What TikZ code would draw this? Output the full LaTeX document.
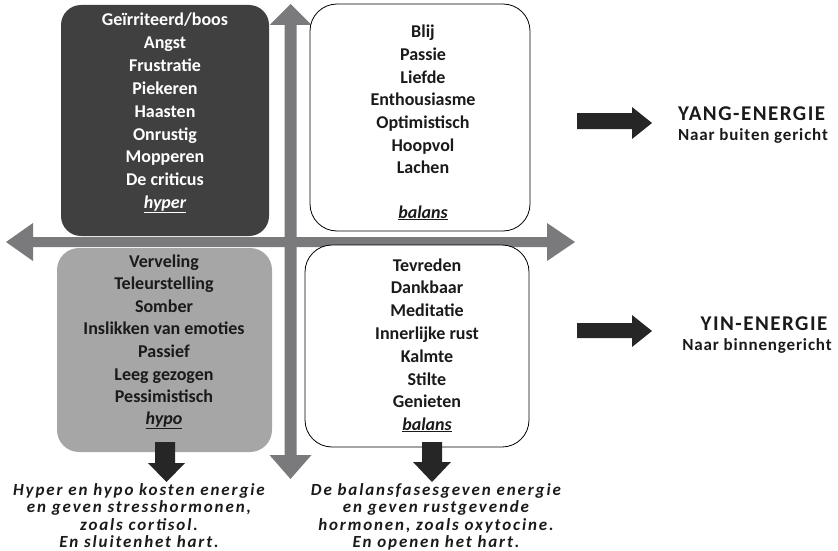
\documentclass[tikz,border=0pt]{standalone}
\usepackage{fontspec}
\setmainfont{Carlito}
\newfontfamily\capfont[LetterSpace=11]{Carlito}
\newfontfamily\yangfont[LetterSpace=7]{Carlito}
\newfontfamily\subfont[LetterSpace=5]{Carlito}
\definecolor{darkbox}{HTML}{404040}
\definecolor{graybox}{HTML}{A6A6A6}
\definecolor{axisgray}{HTML}{7A7A7C}
\definecolor{blackarrow}{HTML}{262626}
\definecolor{textdark}{HTML}{1A1A1A}
\begin{document}
\begin{tikzpicture}[x=1pt,y=-1pt,
  boxtext/.style={anchor=base,inner sep=0pt,font=\bfseries\fontsize{18}{22}\selectfont},
  captext/.style={anchor=base,inner sep=0pt,font=\capfont\bfseries\itshape\fontsize{17}{18}\selectfont,text=textdark},
  headtext/.style={inner sep=0pt,font=\yangfont\bfseries\fontsize{21}{24}\selectfont,text=textdark},
  subtext/.style={inner sep=0pt,font=\subfont\bfseries\fontsize{17}{18}\selectfont,text=textdark},
  axisshape/.style={fill=axisgray,draw=none},
  blockarrow/.style={fill=blackarrow,draw=none},
  quad/.style={rounded corners=#1,line width=0.8pt}
]
\useasboundingbox (0,0) rectangle (838,551);
% axes
\fill[axisshape] (6,242) -- (33,223) -- (33,237) -- (547,237) -- (547,223) -- (575,242)
  -- (547,261) -- (547,247) -- (33,247) -- (33,261) -- cycle;
\fill[axisshape] (290.5,4) -- (311.5,25) -- (296.5,25) -- (296.5,455) -- (311.5,455) -- (290.5,479)
  -- (269.5,455) -- (284.5,455) -- (284.5,25) -- (269.5,25) -- cycle;
% boxes
\node[quad=20pt,fill=darkbox,minimum width=208pt,minimum height=231pt,inner sep=0pt] (hyperbox) at (165,120.5) {};
\node[quad=27pt,fill=white,draw=black,minimum width=220pt,minimum height=227pt,inner sep=0pt] (balansup) at (420,117.5) {};
\node[quad=22pt,fill=graybox,minimum width=215pt,minimum height=204pt,inner sep=0pt] (hypobox) at (164.5,350) {};
\node[quad=27pt,fill=white,draw=black,minimum width=224pt,minimum height=202pt,inner sep=0pt] (balansdown) at (417,346) {};
% texts
\foreach \t [count=\i] in {Geïrriteerd/boos,Angst,Frustratie,Piekeren,Haasten,Onrustig,Mopperen,De criticus}
  \node[boxtext,text=white] (hy\i) at (165,{26+22.8*(\i-1)}) {\t};
\node[boxtext,text=white] (hylab) at (165,208) {\itshape\underline{hyper}};
\foreach \t [count=\i] in {Blij,Passie,Liefde,Enthousiasme,Optimistisch,Hoopvol,Lachen}
  \node[boxtext,text=textdark] (bu\i) at (423,{38+22.6*(\i-1)}) {\t};
\node[boxtext,text=textdark] (bulab) at (423,218) {\itshape\underline{balans}};
\foreach \t [count=\i] in {Verveling,Teleurstelling,Somber,Inslikken van emoties,Passief,Leeg gezogen,Pessimistisch}
  \node[boxtext,text=textdark] (ho\i) at (164,{267+22.6*(\i-1)}) {\t};
\node[boxtext,text=textdark] (holab) at (164,424) {\itshape\underline{hypo}};
\foreach \t [count=\i] in {Tevreden,Dankbaar,Meditatie,Innerlijke rust,Kalmte,Stilte,Genieten}
  \node[boxtext,text=textdark] (bd\i) at (427,{271+22.8*(\i-1)}) {\t};
\node[boxtext,text=textdark] (bdlab) at (427,430) {\itshape\underline{balans}};
% down arrows
\fill[blockarrow] (155,442) -- (175,442) -- (175,463) -- (185,463) -- (166.5,482) -- (148,463) -- (155,463) -- cycle;
\fill[blockarrow] (422,442) -- (442,442) -- (442,462) -- (451,462) -- (432,482) -- (413,462) -- (422,462) -- cycle;
% captions
\foreach \t [count=\i] in {Hyper en hypo kosten energie,{en geven stresshormonen,},zoals cortisol.,En sluitenhet hart.}
  \node[captext] (cl\i) at (139,{495+17.6*(\i-1)}) {\t};
\foreach \t [count=\i] in {De balansfasesgeven energie,en geven rustgevende,{hormonen, zoals oxytocine.},En openen het hart.}
  \node[captext] (cr\i) at (436,{495+17.6*(\i-1)}) {\t};
% right arrows
\fill[blockarrow] (577,113) -- (632,113) -- (632,107) -- (652,123) -- (632,139) -- (632,129) -- (577,129) -- cycle;
\fill[blockarrow] (577,323) -- (632,323) -- (632,315) -- (652,331) -- (632,347) -- (632,338) -- (577,338) -- cycle;
% energy labels
\node[headtext,anchor=base west] (yang) at (678,120) {YANG-ENERGIE};
\node[subtext,anchor=base west] (yangsub) at (678,140) {Naar buiten gericht};
\node[headtext,anchor=base] (yin) at (764,330) {YIN-ENERGIE};
\node[subtext,anchor=base] (yinsub) at (757,350) {Naar binnengericht};
\end{tikzpicture}
\end{document}
